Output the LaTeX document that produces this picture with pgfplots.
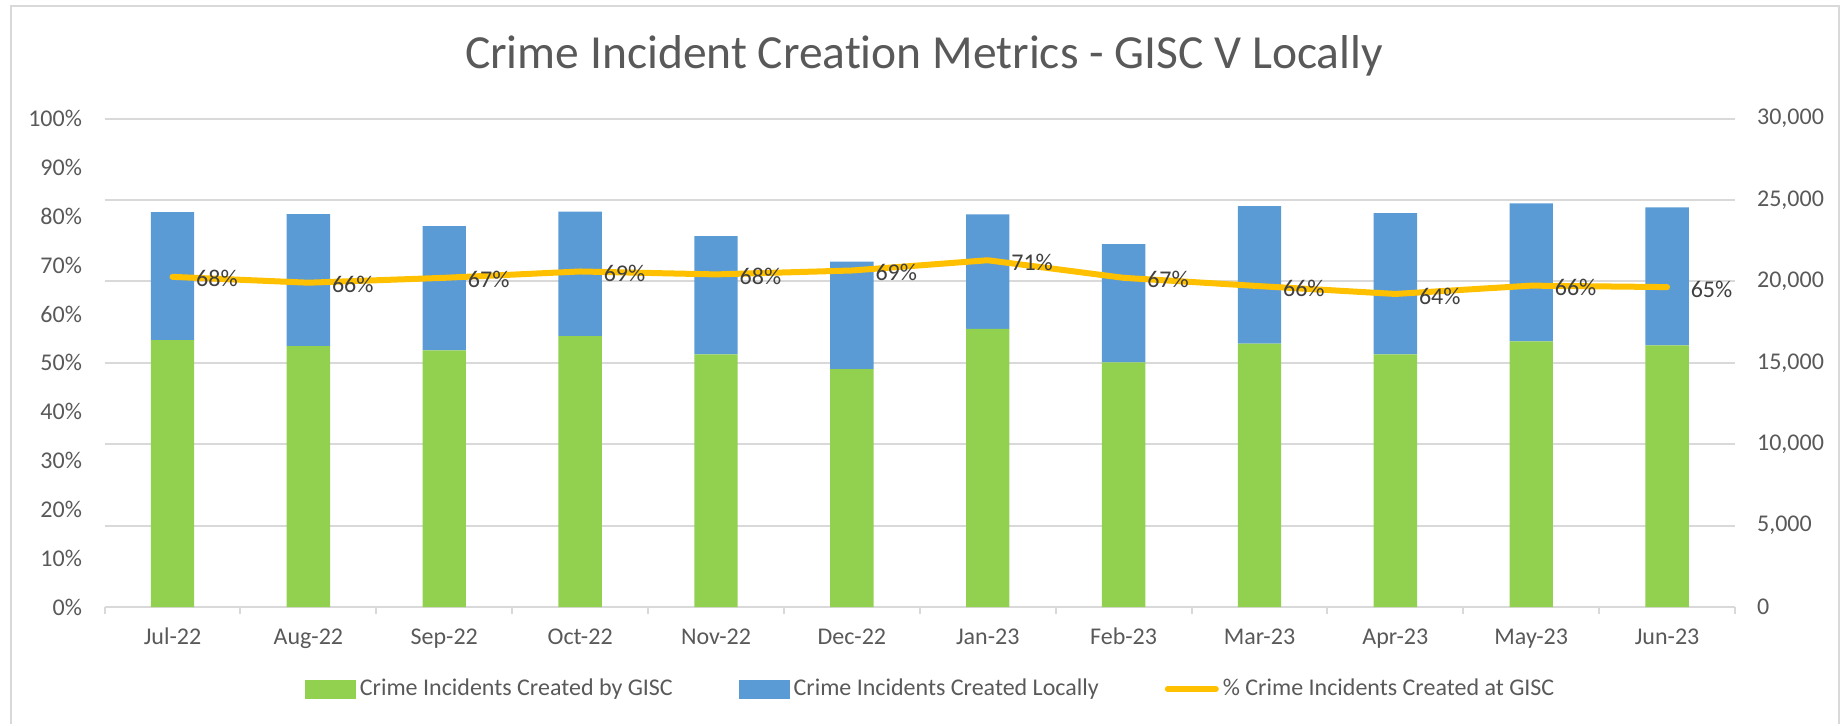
\documentclass[border=0pt]{standalone}
\usepackage{fontspec}
\setmainfont[Ligatures=NoCommon]{Carlito}
\usepackage{pgfplots}
\pgfplotsset{compat=1.18}
\usepackage{pgfplotstable}

\definecolor{gisc}{HTML}{92D050}
\definecolor{local}{HTML}{5B9BD5}
\definecolor{gold}{HTML}{FFC000}
\definecolor{gridc}{HTML}{D9D9D9}
\definecolor{lblc}{HTML}{595959}
\definecolor{datc}{HTML}{404040}

\pgfplotstableread{
x gisc local
0 16390 7860
1 16030 8110
2 15770 7620
3 16640 7640
4 15520 7260
5 14610 6610
6 17090 7030
7 15030 7260
8 16180 8450
9 15520 8680
10 16320 8470
11 16070 8470
}\bars

\pgfplotstableread{
x pct lab
0 67.6 68
1 66.4 66
2 67.4 67
3 68.7 69
4 68.1 68
5 68.9 69
6 71.0 71
7 67.4 67
8 65.7 66
9 64.1 64
10 65.8 66
11 65.5 65
}\pctdata

\begin{document}
\begin{tikzpicture}
\path (0,0) rectangle (920.5pt,362pt);
\draw[gridc, line width=1pt] (5.5pt,0pt) -- (5.5pt,359pt) -- (919.5pt,359pt) -- (919.5pt,0pt);
\node[font=\fontsize{23.75}{28}\selectfont, text=lblc] at (462pt,334pt) {Crime Incident Creation Metrics - GISC V Locally};

% bars on the right axis
\begin{axis}[
  at={(52.3pt,58.5pt)}, anchor=south west,
  scale only axis, width=815.2pt, height=244.2pt,
  xmin=-0.5, xmax=11.5, ymin=0, ymax=30000,
  scaled y ticks=false,
  ybar stacked, bar width=21.7pt,
  axis x line*=bottom, axis y line*=right,
  axis line style={draw=none},
  xtick={0,...,11},
  xticklabels={Jul-22,Aug-22,Sep-22,Oct-22,Nov-22,Dec-22,Jan-23,Feb-23,Mar-23,Apr-23,May-23,Jun-23},
  minor xtick={-0.5,0.5,...,11.5},
  major tick length=0pt, minor tick length=3.5pt, tick align=outside,
  every tick/.style={gridc, line width=1pt},
  ytick={0,5000,10000,15000,20000,25000,30000},
  yticklabels={0,{5,000},{10,000},{15,000},{20,000},{25,000},{30,000}},
  ymajorgrids, grid style={gridc, line width=1pt},
  tick label style={font=\fontsize{12}{14}\selectfont, text=lblc},
  xticklabel style={anchor=base, yshift=-18.5pt},
  yticklabel style={anchor=west, xshift=7.5pt},
  clip=false,
]
\addplot[fill=gisc, draw=none] table[x=x, y=gisc] {\bars};
\addplot[fill=local, draw=none] table[x=x, y=local] {\bars};
\end{axis}

% percentage line on the left axis
\begin{axis}[
  at={(52.3pt,58.5pt)}, anchor=south west,
  scale only axis, width=815.2pt, height=244.2pt,
  xmin=-0.5, xmax=11.5, ymin=0, ymax=100,
  hide x axis,
  axis y line*=left, y axis line style={draw=none},
  ytick={0,10,...,100},
  yticklabels={0\%,10\%,20\%,30\%,40\%,50\%,60\%,70\%,80\%,90\%,100\%},
  major tick length=0pt, ytick style={draw=none},
  tick label style={font=\fontsize{12}{14}\selectfont, text=lblc},
  yticklabel style={anchor=east, xshift=-7.8pt},
  clip=false,
  legend style={at={(0.5073,-0.1679)}, anchor=center, draw=none, fill=none,
    font=\fontsize{12}{14}\selectfont, text=lblc,
    /tikz/every even column/.append style={column sep=31pt}},
  legend columns=3, legend cell align=left,
]
\addlegendimage{legend image code/.code={\fill[gisc] (0pt,-4.5pt) rectangle (25pt,4.5pt);}}
\addlegendentry{Crime Incidents Created by GISC}
\addlegendimage{legend image code/.code={\fill[local] (0pt,-4.5pt) rectangle (25pt,4.5pt);}}
\addlegendentry{Crime Incidents Created Locally}
\addplot[color=gold, line width=3pt, line cap=round, line join=round, mark=none,
  nodes near coords={\pgfplotspointmeta\%}, point meta=explicit symbolic,
  every node near coord/.append style={anchor=west, xshift=7pt, yshift=-1pt,
    font=\fontsize{12}{14}\selectfont, text=datc},
  legend image code/.code={\draw[gold, line width=3pt, line cap=round] (0pt,0pt) -- (24pt,0pt);}]
  table[x=x, y=pct, meta=lab] {\pctdata};
\addlegendentry{\% Crime Incidents Created at GISC}
\end{axis}
\end{tikzpicture}
\end{document}
